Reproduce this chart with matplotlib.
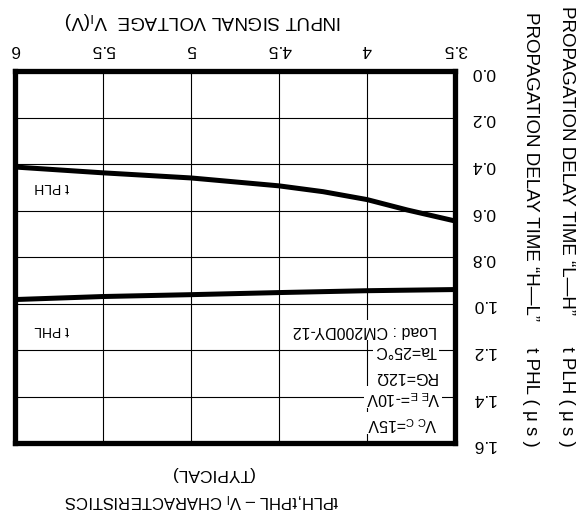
import matplotlib
matplotlib.use("Agg")
import matplotlib.pyplot as plt

plt.rcParams['font.family'] = ['Liberation Sans', 'DejaVu Sans']
plt.rcParams['mathtext.fontset'] = 'custom'
plt.rcParams['mathtext.rm'] = 'Liberation Sans'
plt.rcParams['mathtext.it'] = 'Liberation Sans'
plt.rcParams['mathtext.bf'] = 'Liberation Sans:bold'

# data
v_plh = [3.5, 3.77, 4.0, 4.25, 4.5, 4.75, 5.0, 5.5, 6.0]
t_plh = [0.645, 0.598, 0.553, 0.519, 0.494, 0.477, 0.460, 0.438, 0.413]
v_phl = [3.5, 4.0, 4.5, 5.0, 5.5, 6.0]
t_phl = [0.940, 0.945, 0.953, 0.962, 0.970, 0.983]
x_ticks = [3.5, 4, 4.5, 5, 5.5, 6]
x_tick_labels = ["3.5", "4", "4.5", "5", "5.5", "6"]
y_ticks = [0.0, 0.2, 0.4, 0.6, 0.8, 1.0, 1.2, 1.4, 1.6]
y_tick_labels = ["0.0", "0.2", "0.4", "0.6", "0.8", "1.0", "1.2", "1.4", "1.6"]

W, H = 581, 520
fig = plt.figure(figsize=(W / 100, H / 100), dpi=100)

def fx(x):
    return x / W

def fy(y):
    return 1 - y / H

L, R, T, B = 15, 455, 71, 443
ax = fig.add_axes([fx(L), fy(B), (R - L) / W, (B - T) / H])
ax.set_xlim(6, 3.5)
ax.set_ylim(1.6, 0.0)

ax.set_xticks(x_ticks)
ax.set_yticks(y_ticks)
ax.set_xticklabels(x_tick_labels, rotation=180, fontsize=12.5)
ax.set_yticklabels(y_tick_labels, rotation=180, fontsize=12.5)
ax.xaxis.tick_top()
ax.yaxis.tick_right()
ax.tick_params(axis='x', length=0, pad=10)
ax.tick_params(axis='y', length=0, pad=12)
ax.grid(True, color='black', linewidth=0.8)
for s in ax.spines.values():
    s.set_linewidth(3.8)
    s.set_color('black')

ax.plot(v_plh, t_plh, color='black', linewidth=3.6, solid_capstyle='butt',
        solid_joinstyle='round', zorder=3)
ax.plot(v_phl, t_phl, color='black', linewidth=3.6, solid_capstyle='butt',
        solid_joinstyle='round', zorder=3)

# curve labels
fig.text(fx(52), fy(187), "t PLH", rotation=180, ha='center', va='center', fontsize=10)
fig.text(fx(52), fy(330), "t PHL", rotation=180, ha='center', va='center', fontsize=10)

# conditions
bb = dict(facecolor='white', edgecolor='none', pad=1.5)
fs = 11.5
fig.text(fx(437), fy(330), "Load : CM200DY-12", rotation=180, ha='right', va='center', fontsize=fs, bbox=bb, zorder=5)
fig.text(fx(437), fy(351), "Ta=25\u00b0C", rotation=180, ha='right', va='center', fontsize=fs, bbox=bb, zorder=5)
fig.text(fx(437), fy(376), "RG=12\u03a9", rotation=180, ha='right', va='center', fontsize=fs, bbox=bb, zorder=5)
fig.text(fx(440), fy(397), "V$_{E\\ E}$=-10V", rotation=180, ha='right', va='center', fontsize=fs, bbox=bb, zorder=5)
fig.text(fx(437), fy(423), "V$_{C\\ C}$=15V", rotation=180, ha='right', va='center', fontsize=fs, bbox=bb, zorder=5)

# axis labels
fig.text(fx(203), fy(21), "INPUT SIGNAL VOLTAGE  V$_\\mathregular{I}$(V)", rotation=180,
         ha='center', va='center', fontsize=13.5)
fig.text(fx(566), fy(447), "PROPAGATION DELAY TIME \u201cL\u2014H\u201d      t PLH ( \u03bc s )",
         rotation=-90, ha='center', va='bottom', fontsize=13.5)
fig.text(fx(531), fy(447), "PROPAGATION DELAY TIME \u201cH\u2014L\u201d     t PHL ( \u03bc s )",
         rotation=-90, ha='center', va='bottom', fontsize=13.5)

# title
fig.text(fx(212), fy(474), "(TYPICAL)", rotation=180, ha='center', va='center', fontsize=12.5)
fig.text(fx(202), fy(500), "tPLH,tPHL \u2013 V$_\\mathregular{I}$ CHARACTERISTICS", rotation=180,
         ha='center', va='center', fontsize=12)

fig.savefig("out.png", dpi=100)
